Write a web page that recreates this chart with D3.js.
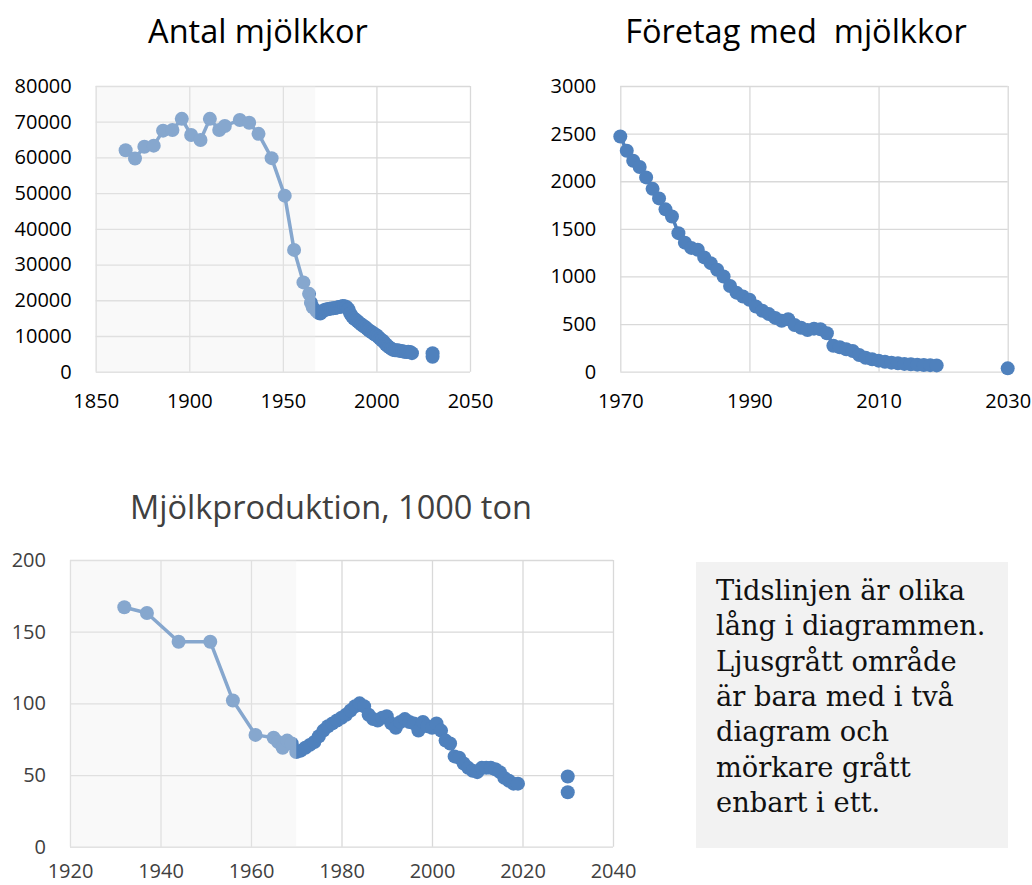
<!DOCTYPE html>
<html>
<head>
<meta charset="utf-8">
<script src="https://cdn.jsdelivr.net/npm/d3@7"></script>
<style>
body { margin: 0; background: #fff; }
text { font-family: "Open Sans", sans-serif; }
</style>
</head>
<body>
<script>
// --- data ---
var annualYears = d3.range(1970, 2020);

// Antal mjölkkor
var koOldYears = [1866,1871,1876,1881,1886,1891,1896,1901,1906,1911,1916,1919,1927,1932,1937,1944,1951,1956,1961,1964,1965,1966,1968,1969];
var koOldValues = [62000,59700,63000,63300,67500,67700,70800,66300,64900,70800,67700,68800,70500,69700,66600,59800,49300,34100,25000,21800,19300,18000,17000,16500];
var koValues = [16300,16800,17200,17400,17500,17650,17700,17800,17850,18000,
                18100,18200,18400,18300,18100,17500,16300,15500,14900,14500,
                14100,13600,13200,12800,12500,12000,11600,11200,10900,10500,
                10200,9700,9200,8800,8300,7700,7200,6800,6400,6100,
                6000,6000,5950,5800,5700,5600,5500,5600,5500,5200];
var koFuture = [5200, 4200];

// Företag med mjölkkor
var ftgValues = [2470,2320,2215,2150,2040,1920,1820,1705,1630,1455,
                 1355,1300,1280,1200,1140,1070,1000,900,830,790,
                 755,685,640,605,565,535,550,490,462,438,
                 452,445,403,273,256,235,217,175,147,130,
                 116,105,95,88,82,78,74,71,69,66];
var ftgFuture = [35];

// Mjölkproduktion, 1000 ton
var prodOldYears = [1932,1937,1944,1951,1956,1961,1965,1966,1967,1968,1969];
var prodOldValues = [167,163,143,143,102,78,76,73,69,74,72];
var prodValues = [66,67,69,71,73,77,81,84,86,88,
                  90,92,95,98,100,98,92,89,88,90,
                  91,86,83,87,89,87,86,81,87,84,
                  83,86,81,74,72,63,62,58,55,53,
                  52,55,55,55,54,52,48,46,44,44];
var prodFuture = [49, 38];
var futureYear = 2030;

var blue = "#4f81bd";

var svg = d3.select("body").append("svg").attr("width", 1032).attr("height", 885);

function chart(c) {
  var x = d3.scaleLinear().domain(c.xDomain).range([c.left, c.right]);
  var y = d3.scaleLinear().domain(c.yDomain).range([c.bottom, c.top]);
  var g = svg.append("g");

  var ya = g.append("g").attr("transform", "translate(" + c.left + ",0)")
    .call(d3.axisLeft(y).tickValues(c.yTicks).tickFormat(d3.format("d"))
      .tickSize(-(c.right - c.left)).tickPadding(24));
  var xa = g.append("g").attr("transform", "translate(0," + c.bottom + ")")
    .call(d3.axisBottom(x).tickValues(c.xTicks).tickFormat(d3.format("d"))
      .tickSize(-(c.bottom - c.top)).tickPadding(c.xPad));
  [ya, xa].forEach(function(a) {
    a.select(".domain").remove();
    a.selectAll("line").attr("stroke", "#d9d9d9").attr("stroke-width", 1.3);
    a.selectAll("text").attr("font-size", "20px").attr("fill", c.labelColor)
      .style("font-family", "'Open Sans', sans-serif");
  });

  var pts = [];
  c.oldYears.forEach(function(d, i) { pts.push([d, c.oldValues[i]]); });
  annualYears.forEach(function(d, i) { pts.push([d, c.values[i]]); });

  var line = d3.line().x(function(d) { return x(d[0]); }).y(function(d) { return y(d[1]); });
  g.append("path").datum(pts).attr("d", line).attr("fill", "none")
    .attr("stroke", blue).attr("stroke-width", 3.5).attr("stroke-linejoin", "round");

  g.selectAll(".pt").data(pts).enter().append("circle")
    .attr("cx", function(d) { return x(d[0]); })
    .attr("cy", function(d) { return y(d[1]); })
    .attr("r", 7).attr("fill", blue);

  g.selectAll(".fut").data(c.future).enter().append("circle")
    .attr("cx", x(futureYear))
    .attr("cy", function(d) { return y(d); })
    .attr("r", 7).attr("fill", blue);

  // light grey band drawn over the older part
  if (c.cut) {
    g.append("rect")
      .attr("x", x(c.xDomain[0])).attr("y", c.top)
      .attr("width", x(c.cut) - x(c.xDomain[0])).attr("height", c.bottom - c.top)
      .attr("fill", "rgb(238,238,238)").attr("fill-opacity", 0.35);
  }

  svg.append("text").attr("x", c.titleX).attr("y", c.titleY)
    .attr("text-anchor", "middle").attr("font-size", "32.5px")
    .attr("fill", c.titleColor).style("white-space", "pre")
    .text(c.title);
}

chart({
  title: "Antal mjölkkor", titleX: 258, titleY: 43, titleColor: "#000",
  left: 95.7, right: 470, top: 86, bottom: 371.7, xPad: 22,
  xDomain: [1850, 2050], yDomain: [0, 80000],
  xTicks: [1850, 1900, 1950, 2000, 2050],
  yTicks: [0, 10000, 20000, 30000, 40000, 50000, 60000, 70000, 80000],
  oldYears: koOldYears, oldValues: koOldValues, values: koValues, future: koFuture,
  cut: 1967.3, labelColor: "#000"
});

chart({
  title: "Företag med  mjölkkor", titleX: 796, titleY: 43, titleColor: "#000",
  left: 620.3, right: 1007.7, top: 86, bottom: 371.7, xPad: 22,
  xDomain: [1970, 2030], yDomain: [0, 3000],
  xTicks: [1970, 1990, 2010, 2030],
  yTicks: [0, 500, 1000, 1500, 2000, 2500, 3000],
  oldYears: [], oldValues: [], values: ftgValues, future: ftgFuture,
  cut: null, labelColor: "#000"
});

chart({
  title: "Mjölkproduktion, 1000 ton", titleX: 331, titleY: 519, titleColor: "#404040",
  left: 70, right: 613, top: 560, bottom: 846.7, xPad: 17,
  xDomain: [1920, 2040], yDomain: [0, 200],
  xTicks: [1920, 1940, 1960, 1980, 2000, 2020, 2040],
  yTicks: [0, 50, 100, 150, 200],
  oldYears: prodOldYears, oldValues: prodOldValues, values: prodValues, future: prodFuture,
  cut: 1970, labelColor: "#404040"
});

// note box
var noteLines = ["Tidslinjen är olika", "lång i diagrammen.", "Ljusgrått område",
                 "är bara med i två", "diagram och", "mörkare grått", "enbart i ett."];
svg.append("rect").attr("x", 696).attr("y", 562).attr("width", 312).attr("height", 286).attr("fill", "#f2f2f2");
var note = svg.append("g");
note.selectAll("text").data(noteLines).enter().append("text")
  .attr("x", 716).attr("y", function(d, i) { return 600 + i * 35.3; })
  .style("font-family", "'DejaVu Serif', serif").attr("font-size", "24px").attr("fill", "#111")
  .text(function(d) { return d; });
var w0 = note.select("text").node().getComputedTextLength();
note.selectAll("text").attr("font-size", (24 * 249 / w0) + "px");
</script>
</body>
</html>
